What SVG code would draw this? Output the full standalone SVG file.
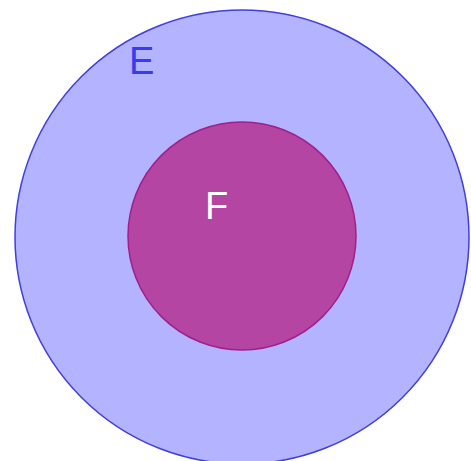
<svg xmlns="http://www.w3.org/2000/svg" width="471" height="461" viewBox="0 0 471 461">
<style>
.lbl{font-family:"Liberation Sans",Arial,sans-serif;font-size:38px}
</style>
<rect width="471" height="461" fill="#ffffff"/>
<g id="E">
<circle cx="242" cy="237" r="227" fill="#b3b3ff" stroke="#3f3fe0" stroke-width="1.5"/>
<text class="lbl" x="129" y="74" fill="#3a3af0">E</text>
</g>
<g id="F">
<circle cx="242" cy="236" r="114" fill="#b545a3" stroke="#a0208a" stroke-width="1.5"/>
<text class="lbl" x="205" y="219" fill="#ffffff">F</text>
</g>
<g id="connectors"></g>
</svg>
